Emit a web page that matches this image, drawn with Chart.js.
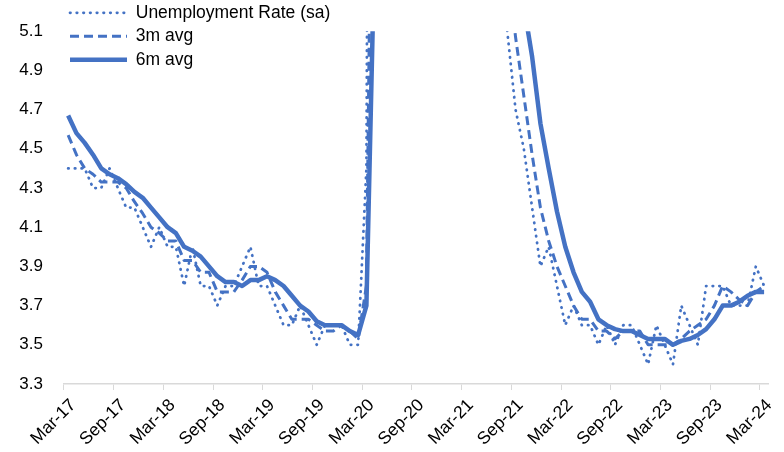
<!DOCTYPE html>
<html>
<head>
<meta charset="utf-8">
<script src="https://cdn.jsdelivr.net/npm/chart.js@4/dist/chart.umd.min.js"></script>
<style>
  html, body { margin: 0; padding: 0; background: #ffffff; }
  #c { display: block; }
</style>
</head>
<body>
<canvas id="c" width="784" height="452"></canvas>
<script>
// Monthly categories, Mar-17 to Mar-24
const months = [
  'Mar-17','Apr-17','May-17','Jun-17','Jul-17','Aug-17','Sep-17','Oct-17','Nov-17','Dec-17',
  'Jan-18','Feb-18','Mar-18','Apr-18','May-18','Jun-18','Jul-18','Aug-18','Sep-18','Oct-18','Nov-18','Dec-18',
  'Jan-19','Feb-19','Mar-19','Apr-19','May-19','Jun-19','Jul-19','Aug-19','Sep-19','Oct-19','Nov-19','Dec-19',
  'Jan-20','Feb-20','Mar-20','Apr-20','May-20','Jun-20','Jul-20','Aug-20','Sep-20','Oct-20','Nov-20','Dec-20',
  'Jan-21','Feb-21','Mar-21','Apr-21','May-21','Jun-21','Jul-21','Aug-21','Sep-21','Oct-21','Nov-21','Dec-21',
  'Jan-22','Feb-22','Mar-22','Apr-22','May-22','Jun-22','Jul-22','Aug-22','Sep-22','Oct-22','Nov-22','Dec-22',
  'Jan-23','Feb-23','Mar-23','Apr-23','May-23','Jun-23','Jul-23','Aug-23','Sep-23','Oct-23','Nov-23','Dec-23',
  'Jan-24','Feb-24','Mar-24'
];

// Unemployment rate, seasonally adjusted (%)
const unemploymentRate = [
  4.4, 4.4, 4.4, 4.3, 4.3, 4.4, 4.3, 4.2, 4.2, 4.1,
  4.0, 4.1, 4.0, 4.0, 3.8, 4.0, 3.8, 3.8, 3.7, 3.8, 3.8, 3.9,
  4.0, 3.8, 3.8, 3.7, 3.6, 3.6, 3.7, 3.6, 3.5, 3.6, 3.6, 3.6,
  3.5, 3.5, 4.4, 14.8, 13.2, 11.0, 10.2, 8.4, 7.8, 6.8, 6.7, 6.7,
  6.4, 6.2, 6.1, 6.1, 5.8, 5.9, 5.4, 5.1, 4.7, 4.5, 4.2, 3.9,
  4.0, 3.8, 3.6, 3.7, 3.6, 3.6, 3.5, 3.6, 3.5, 3.6, 3.6, 3.5,
  3.4, 3.6, 3.5, 3.4, 3.7, 3.6, 3.5, 3.8, 3.8, 3.8, 3.7, 3.7,
  3.7, 3.9, 3.8
];

// Three-month average (%)
const avg3m = [
  4.57, 4.47, 4.40, 4.37, 4.33, 4.33, 4.33, 4.30, 4.23, 4.17,
  4.10, 4.07, 4.03, 4.03, 3.93, 3.93, 3.87, 3.87, 3.77, 3.77, 3.77, 3.83,
  3.90, 3.90, 3.87, 3.77, 3.70, 3.63, 3.63, 3.63, 3.60, 3.57, 3.57, 3.60,
  3.57, 3.53, 3.80, 7.57, 10.80, 13.00, 11.47, 9.87, 8.80, 7.67, 7.10, 6.73,
  6.60, 6.43, 6.23, 6.13, 6.00, 5.93, 5.70, 5.47, 5.07, 4.77, 4.47, 4.20,
  4.03, 3.90, 3.80, 3.70, 3.63, 3.63, 3.57, 3.57, 3.53, 3.57, 3.57, 3.57,
  3.50, 3.50, 3.50, 3.50, 3.53, 3.57, 3.60, 3.63, 3.70, 3.80, 3.77, 3.73,
  3.70, 3.77, 3.80
];

// Six-month average (%)
const avg6m = [
  4.67, 4.58, 4.53, 4.47, 4.40, 4.37, 4.35, 4.32, 4.28, 4.25,
  4.20, 4.15, 4.10, 4.07, 4.00, 3.98, 3.95, 3.90, 3.85, 3.82, 3.82, 3.80,
  3.83, 3.83, 3.85, 3.83, 3.80, 3.75, 3.70, 3.67, 3.62, 3.60, 3.60, 3.60,
  3.57, 3.55, 3.70, 5.57, 7.17, 8.40, 9.52, 10.33, 10.90, 9.57, 8.48, 7.77,
  7.13, 6.77, 6.48, 6.37, 6.22, 6.08, 5.92, 5.73, 5.50, 5.23, 4.97, 4.63,
  4.40, 4.18, 4.00, 3.87, 3.77, 3.72, 3.63, 3.60, 3.58, 3.57, 3.57, 3.55,
  3.53, 3.53, 3.53, 3.50, 3.52, 3.53, 3.55, 3.58, 3.63, 3.70, 3.70, 3.72,
  3.75, 3.77, 3.77
];

const yTicks = { min: 3.3, max: 5.1, step: 0.2 };
const labelEvery = 6;

const BLUE = '#4472C4';
const AXIS_GREY = '#d9d9d9';
const FONT = '"Liberation Sans", Arial, sans-serif';

// Lifts the legend so its first row sits level with the top of the plot
const legendLift = {
  id: 'legendLift',
  afterLayout(chart) {
    const lg = chart.legend;
    if (!lg) return;
    const targetTop = -2;
    const dy = targetTop - lg.top;
    lg.top += dy;
    lg.bottom += dy;
  }
};

new Chart(document.getElementById('c'), {
  type: 'line',
  data: {
    labels: months,
    datasets: [
      {
        label: 'Unemployment Rate (sa)',
        data: unemploymentRate,
        borderColor: BLUE,
        backgroundColor: BLUE,
        borderWidth: 2.75,
        borderDash: [0.5, 6.2],
        borderCapStyle: 'round',
        borderJoinStyle: 'round',
        pointRadius: 0,
        tension: 0,
        clip: 0
      },
      {
        label: '3m avg',
        data: avg3m,
        borderColor: BLUE,
        backgroundColor: BLUE,
        borderWidth: 3,
        borderDash: [9, 5],
        borderCapStyle: 'butt',
        borderJoinStyle: 'round',
        pointRadius: 0,
        tension: 0,
        clip: 0
      },
      {
        label: '6m avg',
        data: avg6m,
        borderColor: BLUE,
        backgroundColor: BLUE,
        borderWidth: 4.5,
        borderCapStyle: 'butt',
        borderJoinStyle: 'round',
        pointRadius: 0,
        tension: 0,
        clip: 0
      }
    ]
  },
  options: {
    responsive: false,
    animation: false,
    devicePixelRatio: 1,
    layout: { padding: { left: 0, right: 8, top: 20, bottom: 0 } },
    plugins: {
      legend: {
        position: 'chartArea',
        align: 'start',
        labels: {
          usePointStyle: true,
          pointStyle: 'line',
          pointStyleWidth: 57,
          padding: 6,
          color: '#000000',
          font: { family: FONT, size: 17.5 },
          // legend samples use each series' own stroke width and dash pattern
          generateLabels(chart) {
            const items = Chart.defaults.plugins.legend.labels.generateLabels(chart);
            items.forEach((item) => {
              const ds = chart.data.datasets[item.datasetIndex];
              item.pointStyle = 'line';
              item.lineWidth = ds.borderWidth;
              item.lineDash = ds.borderDash || [];
              item.lineCap = ds.borderCapStyle || 'butt';
              item.strokeStyle = ds.borderColor;
              item.fillStyle = ds.borderColor;
            });
            return items;
          }
        }
      },
      tooltip: { enabled: false },
      title: { display: false }
    },
    scales: {
      x: {
        type: 'category',
        offset: true,
        grid: {
          display: true,
          offset: true,
          drawOnChartArea: false,
          drawTicks: true,
          tickLength: 6,
          tickWidth: 1,
          tickColor: (ctx) => (ctx.index !== undefined && ctx.index % labelEvery === 0) ? AXIS_GREY : 'rgba(0,0,0,0)'
        },
        border: { display: true, color: AXIS_GREY, width: 1.5 },
        ticks: {
          autoSkip: false,
          maxRotation: 45,
          minRotation: 45,
          padding: 5,
          labelOffset: 5,
          color: '#000000',
          font: { family: FONT, size: 17.5 },
          callback: (value, index) => (index % labelEvery === 0 ? months[index] : '')
        },
        afterFit: (scale) => { scale.height = 68; }
      },
      y: {
        type: 'linear',
        min: yTicks.min,
        max: yTicks.max,
        grid: { display: false, drawTicks: false },
        border: { display: false },
        ticks: {
          stepSize: yTicks.step,
          padding: 21,
          color: '#000000',
          font: { family: FONT, size: 17 },
          callback: (value) => Number(value).toFixed(1)
        },
        afterFit: (scale) => { scale.width = 64; }
      }
    }
  },
  plugins: [legendLift]
});
</script>
</body>
</html>
